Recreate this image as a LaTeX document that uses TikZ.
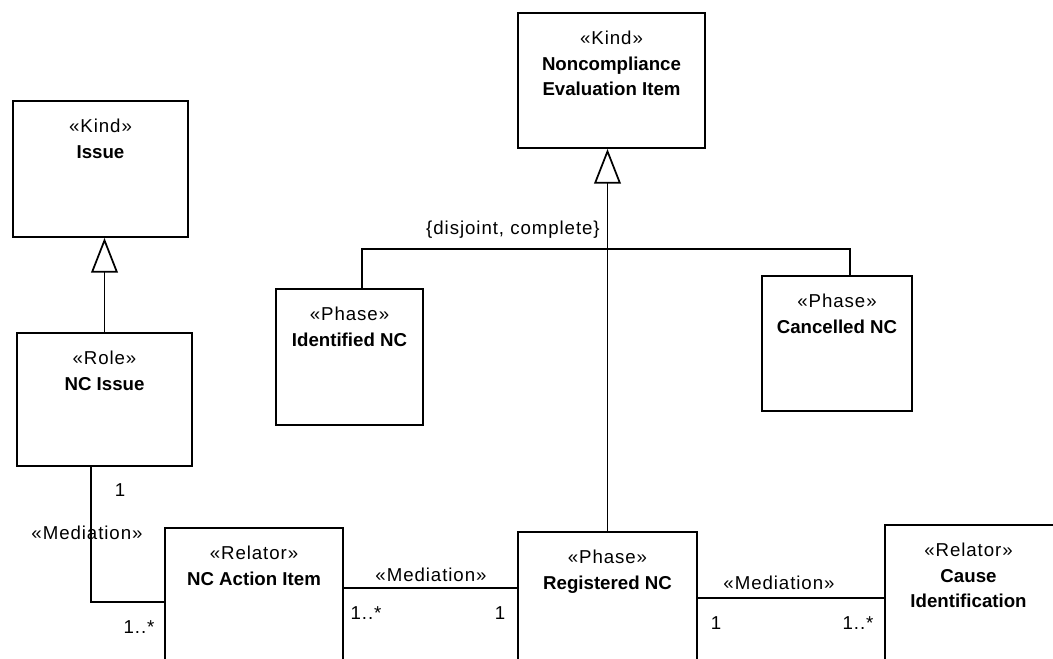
\documentclass[tikz,border=0pt]{standalone}
\usepackage{fontspec}
\setmainfont{Liberation Sans}[LetterSpace=5, BoldFeatures={LetterSpace=0}]
\usetikzlibrary{arrows.meta,fit,calc}

\begin{document}
\begin{tikzpicture}[x=0.75pt,y=-0.75pt,
  font=\fontsize{14}{19}\selectfont,
  cls/.style={draw, line width=1.4pt, inner sep=0pt, rectangle},
  ctext/.style={anchor=north, align=center, inner sep=0pt},
  conn/.style={line width=1.3pt},
  gen/.style={conn, -{Triangle[open, length=26pt, width=20pt, line width=1.3pt]}},
  lbl/.style={inner sep=0pt}]

\useasboundingbox (0,0) rectangle (1053,659);
\clip (0,0) rectangle (1053,659);

% classes
\node[cls, fit={(13,101) (188,237)}] (issue) {};
\node[cls, fit={(17,333) (192,466)}] (ncissue) {};
\node[cls, fit={(518,13) (705,148)}] (nce) {};
\node[cls, fit={(276,289) (423,425)}] (ident) {};
\node[cls, fit={(762,276) (912,411)}] (cancel) {};
\node[cls, fit={(165,528) (343,700)}] (action) {};
\node[cls, fit={(518,532) (697,700)}] (regnc) {};
\node[cls, fit={(885,525) (1056,700)}] (cause) {};

% class names
\node[ctext] (issue-t) at ($(issue.north)+(0,19)$) {«Kind»\\\textbf{Issue}};
\node[ctext] (ncissue-t) at ($(ncissue.north)+(0,19)$) {«Role»\\\textbf{NC Issue}};
\node[ctext] (nce-t) at ($(nce.north)+(0,19)$) {«Kind»\\\textbf{Noncompliance}\\\textbf{Evaluation Item}};
\node[ctext] (ident-t) at ($(ident.north)+(0,19)$) {«Phase»\\\textbf{Identified NC}};
\node[ctext] (cancel-t) at ($(cancel.north)+(0,19)$) {«Phase»\\\textbf{Cancelled NC}};
\node[ctext] (action-t) at ($(action.north)+(0,19)$) {«Relator»\\\textbf{NC Action Item}};
\node[ctext] (regnc-t) at ($(regnc.north)+(0,19)$) {«Phase»\\\textbf{Registered NC}};
\node[ctext] (cause-t) at ($(cause.north)+(-2,19)$) {«Relator»\\\textbf{Cause}\\\textbf{Identification}};

% generalizations
\draw[gen] (ncissue.north) -- (ncissue.north |- issue.south);
\draw[gen] (regnc.north) -- (regnc.north |- nce.south);
\coordinate (gsL) at (362,249);
\coordinate (gsR) at (850,249);
\draw[conn] (ident.north -| gsL) -- (gsL) -- (gsR) -- (cancel.north -| gsR);
\node[lbl, anchor=base east] (gs-lbl) at (600,235) {\{disjoint, complete\}};

% mediations
\coordinate (m1) at (91,602);
\draw[conn] (ncissue.south -| m1) -- (m1) -- (action.west |- m1);
\node[lbl] (m1-lbl) at (87,533) {«Mediation»};
\node[lbl] (m1-a) at (120,490) {1};
\node[lbl] (m1-b) at (139,627) {1..*};

\coordinate (m2) at (430,588);
\draw[conn] (action.east |- m2) -- (regnc.west |- m2);
\node[lbl] (m2-lbl) at (431,575) {«Mediation»};
\node[lbl] (m2-a) at (366,613) {1..*};
\node[lbl] (m2-b) at (500,613) {1};

\coordinate (m3) at (790,598);
\draw[conn] (regnc.east |- m3) -- (cause.west |- m3);
\node[lbl] (m3-lbl) at (779,583) {«Mediation»};
\node[lbl] (m3-a) at (716,623) {1};
\node[lbl] (m3-b) at (858,623) {1..*};
\end{tikzpicture}
\end{document}
